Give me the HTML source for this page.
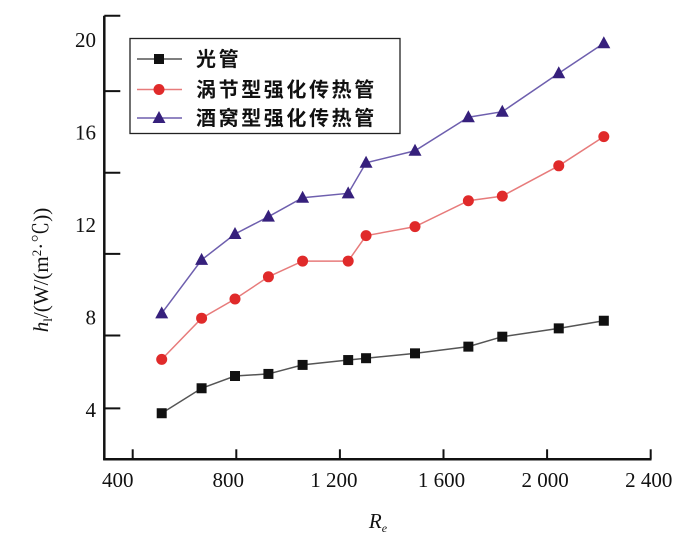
<!DOCTYPE html>
<html><head><meta charset="utf-8"><style>
html,body{margin:0;padding:0;background:#fff;}
svg{display:block;}
text{font-family:"Liberation Serif","Noto Serif CJK SC",serif;}
.cjk{font-family:"Liberation Sans","Noto Sans CJK SC",sans-serif;}
</style></head><body>
<svg id="chart" width="700" height="549" viewBox="0 0 700 549" xmlns="http://www.w3.org/2000/svg"></svg>
<script>
const reValues = [512, 666, 795, 924, 1056, 1232, 1301, 1490, 1696, 1827, 2045, 2219];
const smoothTube = [3.86, 4.94, 5.47, 5.56, 5.95, 6.16, 6.24, 6.45, 6.74, 7.17, 7.53, 7.86];
const vortexTube = [6.19, 7.97, 8.8, 9.76, 10.44, 10.44, 11.54, 11.93, 13.05, 13.25, 14.56, 15.82];
const dimpleTube = [8.18, 10.49, 11.61, 12.36, 13.18, 13.37, 14.69, 15.21, 16.66, 16.9, 18.56, 19.86];
const xTicks = [400, 800, 1200, 1600, 2000, 2400];
const xTickLabels = ["400", "800", "1 200", "1 600", "2 000", "2 400"];
const yLabelValues = [4, 8, 12, 16, 20];
const yLabelText = ["4", "8", "12", "16", "20"];
const yTickValues = [4.07, 7.22, 10.75, 14.26, 17.79, 21.05];

const NS = "http://www.w3.org/2000/svg";
const svg = document.getElementById("chart");
function xs(v){ return 132.7 + (v - 400) * 0.259; }
function ys(v){ return 410 - (v - 4) * 23.125; }
function mk(tag, attrs, parent){
  const e = document.createElementNS(NS, tag);
  for (const k in attrs) e.setAttribute(k, attrs[k]);
  (parent || svg).appendChild(e);
  return e;
}
const axisY0 = 459.3, axisX0 = 104.3;

let el = mk("line", {x1: axisX0, y1: 15.7, x2: axisX0, y2: axisY0 + 1, stroke: "#111", "stroke-width": 2.5});


el = mk("line", {x1: axisX0 - 1, y1: axisY0, x2: 651.5, y2: axisY0, stroke: "#111", "stroke-width": 2.5});



yTickValues.forEach(v => {
  const t = mk("line", {x1: axisX0, y1: ys(v), x2: axisX0 + 16, y2: ys(v), stroke: "#111", "stroke-width": 2});
  
  
});
yLabelValues.forEach((v, i) => {
  const t = mk("text", {x: 96, y: ys(v) + 7, "text-anchor": "end", "font-size": 21, fill: "#111"});
  t.textContent = yLabelText[i];
  
  
});
xTicks.forEach((v, i) => {
  const t = mk("line", {x1: xs(v), y1: axisY0, x2: xs(v), y2: axisY0 - 10, stroke: "#111", "stroke-width": 2});
  
  
  const off = i === 0 ? -15 : (i === 1 ? -8 : (i === 2 ? -6 : -2));
  const l = mk("text", {x: xs(v) + off, y: 487, "text-anchor": "middle", "font-size": 21, fill: "#111"});
  l.textContent = xTickLabels[i];
  
  
});

el = mk("text", {x: 378, y: 528, "text-anchor": "middle", "font-size": 21, "font-style": "italic", fill: "#111"});
el.innerHTML = 'R<tspan font-size="12" dy="4">e</tspan>';


el = mk("text", {x: 0, y: 0, "text-anchor": "middle", "font-size": 21, fill: "#111", transform: "translate(48,270) rotate(-90)"});
el.innerHTML = '<tspan font-style="italic">h</tspan><tspan font-size="13" dy="4">l</tspan><tspan dy="-4">/(W/(m</tspan><tspan font-size="13" dy="-7">2</tspan><tspan dy="7">·℃))</tspan>';



function drawMarker(type, x, y, fill, g){
  let m;
  if (type === "square") m = mk("rect", {x: x - 5, y: y - 5, width: 10, height: 10, fill: fill}, g);
  else if (type === "circle") m = mk("circle", {cx: x, cy: y, r: 5.5, fill: fill}, g);
  else m = mk("polygon", {points: (x - 6.5) + "," + (y + 5) + " " + (x + 6.5) + "," + (y + 5) + " " + x + "," + (y - 7), fill: fill}, g);
  return m;
}
const series = [
  {name: "series-smooth-tube", vals: smoothTube, line: "#555", fill: "#111", type: "square"},
  {name: "series-vortex-tube", vals: vortexTube, line: "#e77b7b", fill: "#e02a2a", type: "circle"},
  {name: "series-dimple-tube", vals: dimpleTube, line: "#6e5fae", fill: "#36207c", type: "triangle"}
];
series.forEach(s => {
  const g = mk("g", {});
  
  
  const pts = reValues.map((r, i) => xs(r) + "," + ys(s.vals[i])).join(" ");
  const pl = mk("polyline", {points: pts, fill: "none", stroke: s.line, "stroke-width": 1.5}, g);
  
  
  reValues.forEach((r, i) => {
    const m = drawMarker(s.type, xs(r), ys(s.vals[i]), s.fill, g);
    
    
  });
});

const lg = mk("g", {});


el = mk("rect", {x: 130, y: 38.5, width: 270, height: 95, fill: "#fff", stroke: "#222", "stroke-width": 1.3}, lg);


const legendNames = ["光管", "涡节型强化传热管", "酒窝型强化传热管"];
const legendY = [59, 89.5, 118];
series.forEach((s, i) => {
  const y = legendY[i];
  const e = mk("g", {}, lg);
  
  
  mk("line", {x1: 137, y1: y, x2: 182, y2: y, stroke: s.line, "stroke-width": 1.5}, e);
  drawMarker(s.type, 159, y, s.fill, e);
  const t = mk("text", {x: 196, y: y + 7, "font-size": 20, "font-weight": "bold", fill: "#111", "letter-spacing": 2.6, class: "cjk"}, e);
  t.textContent = legendNames[i];
});
</script>
</body></html>
